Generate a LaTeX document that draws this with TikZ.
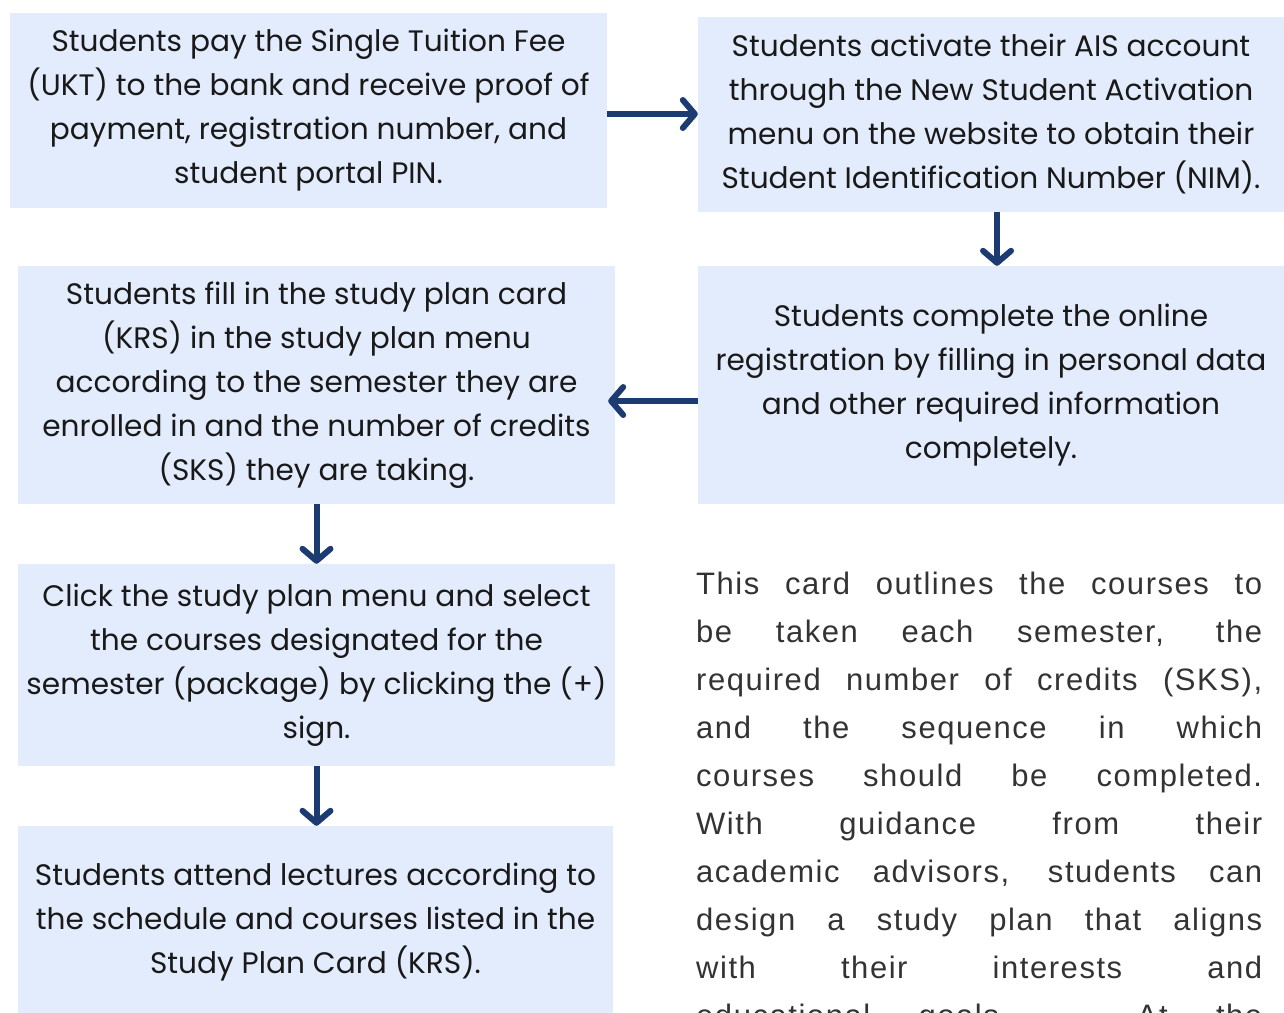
\documentclass[tikz,border=0pt]{standalone}
\usepackage{fontspec}
\setmainfont{Poppins}
\newfontfamily\cardfont[LetterSpace=5]{Liberation Sans}
\usetikzlibrary{arrows.meta}
\definecolor{boxblue}{HTML}{E3ECFD}
\definecolor{arrowblue}{HTML}{1C3B71}
\definecolor{textgray}{HTML}{333333}
\tikzset{
  stepbox/.style={fill=boxblue, text=black!90, align=center, inner sep=0pt,
    font=\fontsize{29.6}{44}\selectfont},
  flow/.style={arrowblue, line width=6pt, -{Straight Barb[length=12pt,width=28pt,round]}}
}
\newcommand{\cardline}[1]{\makebox[566pt][s]{#1}}

\begin{document}
\begin{tikzpicture}[x=1pt, y=-1pt]
        \clip (0,0) rectangle (1284,1012);
        \node[stepbox, minimum width=597, minimum height=195] (pay) at (308.5,110)
            {Students pay the Single Tuition Fee\\(UKT) to the bank and receive proof of\\payment, registration number, and\\student portal PIN.};
        \node[stepbox, minimum width=586, minimum height=195] (activate) at (991,114)
            {Students activate their AIS account\\through the New Student Activation\\menu on the website to obtain their\\Student Identification Number (NIM).};
        \node[stepbox, minimum width=586, minimum height=238] (register) at (991,385)
            {Students complete the online\\registration by filling in personal data\\and other required information\\completely.};
        \node[stepbox, minimum width=597, minimum height=238] (krs) at (316.5,385)
            {Students fill in the study plan card\\(KRS) in the study plan menu\\according to the semester they are\\enrolled in and the number of credits\\(SKS) they are taking.};
        \node[stepbox, minimum width=597, minimum height=202] (courses) at (316.5,665)
            {Click the study plan menu and select\\the courses designated for the\\semester (package) by clicking the (+)\\sign.};
        \node[stepbox, minimum width=595, minimum height=192] (lectures) at (315.5,922)
            {Students attend lectures according to\\the schedule and courses listed in the\\Study Plan Card (KRS).};

        \draw[flow] (pay.east |- activate.west) -- (activate.west);
        \draw[flow] ([xshift=6]activate.south) -- ([xshift=6]register.north);
        \draw[flow] ([yshift=-16]register.west) -- ([xshift=-7,yshift=-16]krs.east);
        \draw[flow] (krs.south) -- (courses.north);
        \draw[flow] (courses.south) -- ([xshift=1]lectures.north);

        \node[anchor=north west, inner sep=0pt, align=left, text=textgray,
            font=\cardfont\fontsize{31}{48}\selectfont] (card) at (696,572)
            {\cardline{This card outlines the courses to}\\
             \cardline{be taken each semester, the}\\
             \cardline{required number of credits (SKS),}\\
             \cardline{and the sequence in which}\\
             \cardline{courses should be completed.}\\
             \cardline{With guidance from their}\\
             \cardline{academic advisors, students can}\\
             \cardline{design a study plan that aligns}\\
             \cardline{with their interests and}\\
             \cardline{educational goals. At the}};
    \end{tikzpicture}
\end{document}
